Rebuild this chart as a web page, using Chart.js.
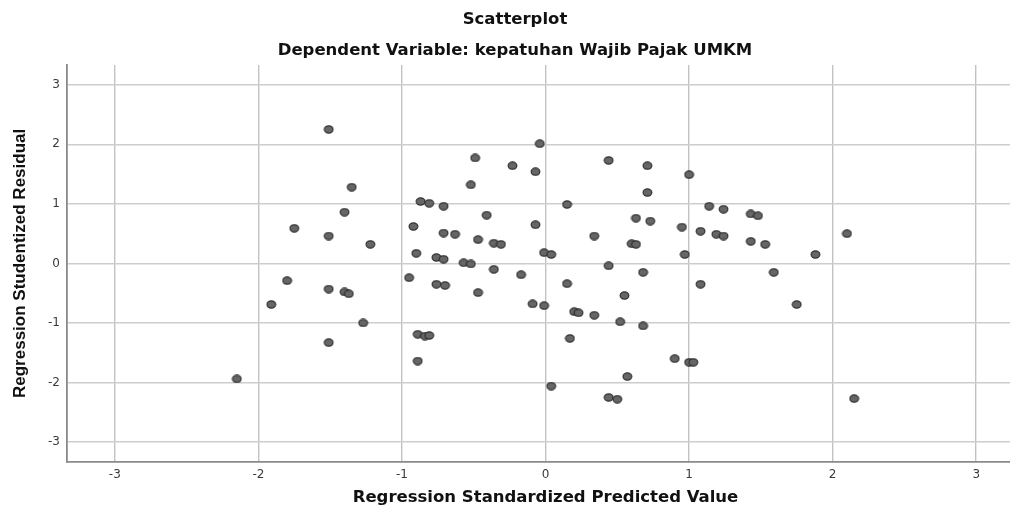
<!DOCTYPE html>
<html>
<head>
<meta charset="utf-8">
<script src="https://cdn.jsdelivr.net/npm/chart.js@4/dist/chart.umd.min.js"></script>
<style>
  html, body { margin: 0; padding: 0; background: #ffffff; overflow: hidden; }
  #wrap { width: 1030px; height: 518px; }
</style>
</head>
<body>
<div id="wrap"><canvas id="c" width="1030" height="518"></canvas></div>
<script>
// Regression Standardized Predicted Value (x)
const predicted = [
  -1.51, -1.75, -1.51, -1.40, -1.80, -1.91, -1.51, -1.51, -2.15,
  -0.04, -0.49, -0.23, -0.07, 0.44, 0.71, -1.35, -0.52, 0.71,
  -0.87, -0.81, -0.71, 0.15, -0.41, 0.63, 0.73, -0.92, -0.07,
  -0.71, -0.63, 0.34, -1.22, -0.47, -0.36, -0.31, 0.60, 0.63,
  -0.90, -0.76, -0.71, -0.01, 0.04, -0.57, -0.52, -0.36, -0.17,
  0.44, 0.68, -0.95, -1.40, -1.37, -1.27, -0.76, -0.70, -0.47,
  -0.09, -0.01, 0.15, 0.20, 0.23, 0.34, 0.55, 0.52, 0.68,
  -0.89, -0.84, -0.81, -0.89, 0.17, 0.04, 0.57, 0.44, 0.50,
  1.00, 1.14, 1.24, 1.43, 1.48, 0.95, 1.08, 1.19, 1.24,
  2.10, 1.43, 1.53, 0.97, 1.88, 1.59, 1.08, 1.75, 0.90,
  1.00, 1.03, 2.15
];
// Regression Studentized Residual (y)
const residual = [
  2.25, 0.59, 0.46, 0.86, -0.29, -0.69, -0.43, -1.33, -1.94,
  2.01, 1.77, 1.64, 1.54, 1.73, 1.64, 1.28, 1.32, 1.19,
  1.04, 1.01, 0.96, 0.99, 0.81, 0.76, 0.71, 0.62, 0.65,
  0.51, 0.49, 0.46, 0.32, 0.40, 0.34, 0.32, 0.33, 0.32,
  0.17, 0.10, 0.07, 0.18, 0.15, 0.01, -0.01, -0.10, -0.19,
  -0.04, -0.15, -0.24, -0.48, -0.51, -1.00, -0.35, -0.37, -0.49,
  -0.68, -0.71, -0.34, -0.81, -0.83, -0.87, -0.54, -0.98, -1.05,
  -1.19, -1.22, -1.21, -1.64, -1.26, -2.06, -1.90, -2.25, -2.28,
  1.49, 0.96, 0.91, 0.83, 0.80, 0.61, 0.54, 0.49, 0.46,
  0.50, 0.37, 0.32, 0.15, 0.15, -0.15, -0.35, -0.69, -1.60,
  -1.66, -1.66, -2.27
];
const xTicks = [-3, -2, -1, 0, 1, 2, 3];
const yTicks = [-3, -2, -1, 0, 1, 2, 3];
const chartTitle = 'Scatterplot';
const chartSubtitle = 'Dependent Variable: kepatuhan Wajib Pajak UMKM';
const xTitle = 'Regression Standardized Predicted Value';
const yTitle = 'Regression Studentized Residual';

const points = predicted.map((x, i) => ({ x: x, y: residual[i] }));

// elliptical marker
const marker = document.createElement('canvas');
marker.width = 11; marker.height = 9;
(function () {
  const g = marker.getContext('2d');
  g.beginPath();
  g.ellipse(5.5, 4.5, 4.4, 3.6, 0, 0, Math.PI * 2);
  g.fillStyle = '#666666';
  g.fill();
  g.lineWidth = 1.1;
  g.strokeStyle = '#2a2a2a';
  g.stroke();
})();

const horizFont = 'DejaVu Sans';

new Chart(document.getElementById('c'), {
  type: 'scatter',
  data: {
    datasets: [{
      data: points,
      pointStyle: marker,
      pointRadius: 5,
      pointHoverRadius: 5
    }]
  },
  options: {
    responsive: false,
    animation: false,
    devicePixelRatio: 1,
    layout: { padding: { left: 0, right: 0, top: 0, bottom: 0 } },
    plugins: {
      legend: { display: false },
      tooltip: { enabled: false },
      title: {
        display: true,
        text: chartTitle,
        color: '#111',
        font: { family: horizFont, size: 16.5, weight: 'bold', lineHeight: 1.2 },
        padding: { top: 10, bottom: 0 }
      },
      subtitle: {
        display: true,
        text: chartSubtitle,
        color: '#111',
        font: { family: horizFont, size: 16.5, weight: 'bold', lineHeight: 1.2 },
        padding: { top: 11, bottom: 4.5 }
      }
    },
    scales: {
      x: {
        type: 'linear',
        min: -3.333,
        max: 3.333,
        afterBuildTicks: s => { s.ticks = xTicks.map(v => ({ value: v })); },
        afterFit: s => { s.height = 56.3; },
        grid: { color: '#c2c2c2', lineWidth: 1.4, drawTicks: false },
        border: { display: true, color: '#8a8a8a', width: 1.8 },
        ticks: {
          color: '#3a3a3a',
          padding: 6,
          font: { family: horizFont, size: 12 }
        },
        title: {
          display: true,
          text: xTitle,
          color: '#111',
          font: { family: horizFont, size: 16.5, weight: 'bold', lineHeight: 1.2 },
          padding: { top: 0, bottom: 10.6 }
        }
      },
      y: {
        type: 'linear',
        min: -3.33,
        max: 3.33,
        afterBuildTicks: s => { s.ticks = yTicks.map(v => ({ value: v })); },
        afterFit: s => { s.width = 67; },
        grid: { color: '#cdcdcd', lineWidth: 1.4, drawTicks: false },
        border: { display: true, color: '#8a8a8a', width: 1.8 },
        ticks: {
          color: '#3a3a3a',
          padding: 7,
          font: { family: horizFont, size: 12 }
        },
        title: {
          display: true,
          text: yTitle,
          color: '#111',
          font: { family: 'Liberation Sans', size: 17, weight: 'bold', lineHeight: 1.2 },
          padding: { top: 10, bottom: 0 }
        }
      }
    }
  }
});
</script>
</body>
</html>
